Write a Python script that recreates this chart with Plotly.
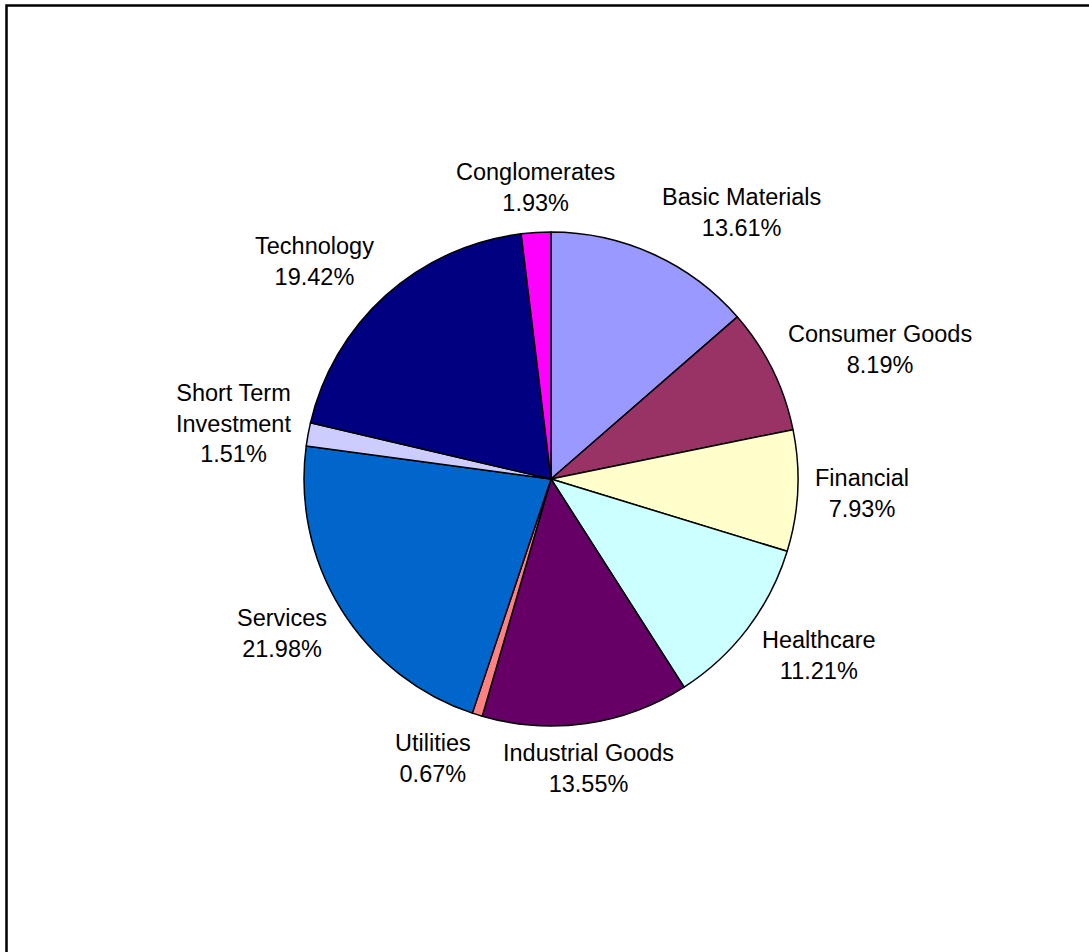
import math
import plotly.graph_objects as go

# ---- data ----
categories = ["Basic Materials", "Consumer Goods", "Financial", "Healthcare",
              "Industrial Goods", "Utilities", "Services", "Short Term<br>Investment",
              "Technology", "Conglomerates"]
shares = [13.61, 8.19, 7.93, 11.21, 13.55, 0.67, 21.98, 1.51, 19.42, 1.93]
colors = ["#9999FF", "#993366", "#FFFFCC", "#CCFFFF", "#660066",
          "#FF8080", "#0066CC", "#CCCCFF", "#000080", "#FF00FF"]

W, H = 1089, 952
cx, cy, r = 551, 479, 247  # pixels (from top-left)
FS = 23.5
LINE_H = FS * 1.3

fig = go.Figure(go.Pie(
    labels=categories,
    values=shares,
    marker=dict(colors=colors, line=dict(color="black", width=1.5)),
    sort=False,
    direction="clockwise",
    rotation=0,
    textinfo="none",
    hoverinfo="label+percent",
    showlegend=False,
    domain=dict(x=[(cx - r) / W, (cx + r) / W],
                y=[(H - cy - r) / H, (H - cy + r) / H]),
))

# labels placed just outside each slice, along its mid-angle
total = sum(shares)
cum = 0.0
annotations = []
d = r * 1.06
for name, v in zip(categories, shares):
    mid = (cum + v / 2) / total * 2 * math.pi
    cum += v
    s, c = math.sin(mid), math.cos(mid)
    px = cx + d * s
    py = cy - d * c
    xa = "left" if s > 0.25 else ("right" if s < -0.25 else "center")
    text = f"{name}<br>{v:.2f}%"
    h = (text.count("<br>") + 1) * LINE_H
    annotations.append(dict(
        x=px / W, y=1 - py / H, xref="paper", yref="paper",
        text=text, showarrow=False,
        xanchor=xa, yanchor="middle", align="center",
        yshift=c * h / 2,
        font=dict(family="Liberation Sans, Arial, sans-serif", size=FS, color="black"),
    ))

fig.update_layout(
    width=W, height=H,
    margin=dict(l=0, r=0, t=0, b=0),
    paper_bgcolor="white",
    plot_bgcolor="white",
    annotations=annotations,
    shapes=[dict(type="rect", xref="paper", yref="paper",
                 x0=6.5 / W, x1=1.2, y0=-0.2, y1=1 - 5.5 / H,
                 line=dict(color="black", width=2.5), fillcolor="rgba(0,0,0,0)")],
)

fig.write_html("out.html")
